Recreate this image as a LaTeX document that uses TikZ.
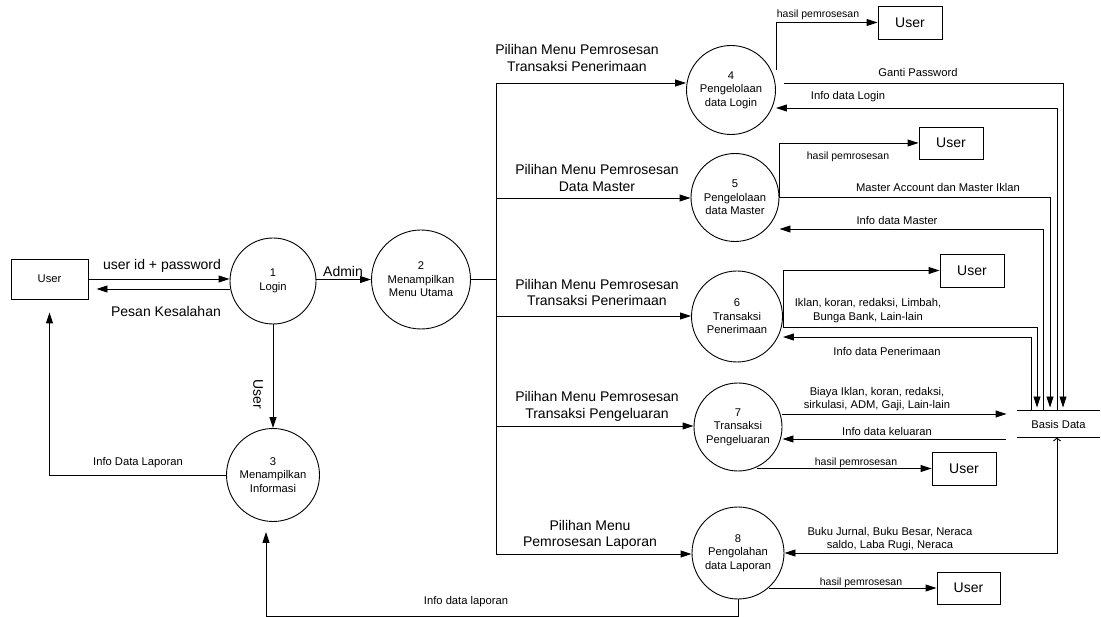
\documentclass[tikz,border=0pt]{standalone}
\usepackage{fontspec}
\setmainfont{Liberation Sans}
\usetikzlibrary{arrows.meta}
\begin{document}
\begin{tikzpicture}[x=1pt,y=-1pt, line width=0.9pt,
  arr/.style={-{Triangle[length=11pt,width=7pt]}},
  proc/.style={circle,draw,inner sep=0pt,align=center,font=\fontsize{11.2}{13.5}\selectfont},
  ent/.style={draw,inner sep=0pt,font=\fontsize{14}{16}\selectfont},
  big/.style={align=center,inner sep=0pt,font=\fontsize{14}{16.5}\selectfont},
  lab/.style={align=center,inner sep=0pt,font=\fontsize{11.2}{13.5}\selectfont},
  sm/.style={inner sep=0pt,font=\fontsize{10.5}{12}\selectfont}]
\fill[white] (0,0) rectangle (1101,617);
\useasboundingbox (0,0) rectangle (1101,617);

% entities
\node[ent, minimum width=77pt, minimum height=40pt, font=\fontsize{11.2}{13}\selectfont] (uL) at (49.5,279) {User};
\node[ent, minimum width=64pt, minimum height=33pt] (u4) at (910,22.5) {User};
\node[ent, minimum width=64pt, minimum height=32pt] (u5) at (951,143) {User};
\node[ent, minimum width=64pt, minimum height=33pt] (u6) at (972,270.5) {User};
\node[ent, minimum width=64pt, minimum height=33pt] (u7) at (964,468.5) {User};
\node[ent, minimum width=63pt, minimum height=32pt] (u8) at (968.5,588) {User};

% processes
\node[proc, minimum size=86pt] (c1) at (273,281) {1\\Login};
\node[proc, minimum size=99pt] (c2) at (421,279.5) {2\\Menampilkan\\Menu Utama};
\node[proc, minimum size=93pt] (c3) at (273,475) {3\\Menampilkan\\Informasi};
\node[proc, minimum size=89pt] (c4) at (731,90) {4\\Pengelolaan\\data Login};
\node[proc, minimum size=88pt] (c5) at (735,197.5) {5\\Pengelolaan\\data Master};
\node[proc, minimum size=91pt] (c6) at (737,316.5) {6\\Transaksi\\Penerimaan};
\node[proc, minimum size=88pt] (c7) at (738,427) {7\\Transaksi\\Pengeluaran};
\node[proc, minimum size=92pt] (c8) at (738,553) {8\\Pengolahan\\data Laporan};

% data store
\node[minimum width=83pt, minimum height=26pt, inner sep=0pt, font=\fontsize{11.2}{13}\selectfont] (bd) at (1058.5,424) {Basis Data};
\draw (bd.north west) -- (bd.north east);
\draw (bd.south west) -- (bd.south east);

% coordinates
\coordinate (b2) at (496,279.5);
\coordinate (b4) at (496,83);
\coordinate (b5) at (496,198);
\coordinate (b6) at (496,316);
\coordinate (b7) at (496,426);
\coordinate (b8) at (496,554);
\coordinate (g1) at (1063,83);
\coordinate (g2) at (1057,108);
\coordinate (g3) at (1050,0);
\coordinate (g4) at (1043,0);
\coordinate (g5) at (1037,0);
\coordinate (g6) at (1031,0);
\coordinate (g7) at (1057,0);
\coordinate (bl) at (266,616);

% left part
\draw[arr] (uL.east) -- (uL.east -| c1.west);
\draw[arr, shorten >=8pt] ([yshift=-8pt]c1.west) -- ([yshift=-10pt]uL.east);
\draw[arr] (c2.west -| c1.east) -- (c2.west);
\draw[arr] (c1.south) -- (c3.north);
\draw[arr, shorten >=13pt] (c3.west) -| (uL.south);
\draw[arr, shorten >=10pt] (c8.south) |- (bl) -- (bl |- c3.south);

% bus
\draw (c2.east) -- (b2);
\draw (b4) -- (b8);
\draw[arr] (b4) -- (b4 -| c4.west);
\draw[arr] (b5) -- (b5 -| c5.west);
\draw[arr] (b6) -- (b6 -| c6.west);
\draw[arr] (b7) -- (b7 -| c7.west);
\draw[arr] (b8) -- (b8 -| c8.west);

% process 4
\draw[arr] ([yshift=20pt]c4.east) |- (u4.west);
\draw[arr, shorten <=8pt, shorten >=3pt] (g1 -| c4.east) -- (g1) -- (g1 |- bd.north);
\draw[arr] (g2 |- bd.north) -- (g2) -- (g2 -| c4.east);

% process 5
\draw[arr] (c5.east) |- (u5.west);
\draw[arr, shorten >=3pt] (c5.east) -| (g3 |- bd.north);
\draw[arr] (g4 |- bd.north) |- ([yshift=-31.5pt]c5.east);

% process 6
\draw[arr] ([yshift=-10.5pt]c6.east) |- (u6.west);
\draw[arr, shorten >=3pt] ([yshift=-10.5pt]c6.east) -| (g5 |- bd.north);
\draw[arr] (g6 |- bd.north) |- ([yshift=-20.5pt]c6.east);

% process 7
\draw[arr, shorten >=10pt] ([yshift=13pt]c7.east) -- ([yshift=13pt]c7.east -| bd.west);
\draw[arr, shorten <=11pt] ([yshift=-12pt]c7.east -| bd.west) -- ([yshift=-12pt]c7.east);
\draw[arr] (u7.west -| c7.-65) -- (u7.west);

% process 8
\draw[{Straight Barb[length=3pt,width=7pt]}-{Triangle[length=11pt,width=7pt]}] (g7 |- bd.south) |- (c8.east);
\draw[arr] (u8.west -| c8.-48) -- (u8.west);

% labels
\node[big] (t1) at (162,266) {user id + password};
\node[big] (t2) at (166,311) {Pesan Kesalahan};
\node[big] (t3) at (343,271) {Admin};
\node[big, rotate=-90] (t4) at (258,394) {User};
\node[lab] (t5) at (138,463) {Info Data Laporan};
\node[lab] (t6) at (466,602) {Info data laporan};
\node[big] (t7) at (577,58) {Pilihan Menu Pemrosesan\\Transaksi Penerimaan};
\node[big] (t8) at (597,178) {Pilihan Menu Pemrosesan\\Data Master};
\node[big] (t9) at (597,292.5) {Pilihan Menu Pemrosesan\\Transaksi Penerimaan};
\node[big] (t10) at (597,406.5) {Pilihan Menu Pemrosesan\\Transaksi Pengeluaran};
\node[big] (t11) at (590,535) {Pilihan Menu\\Pemrosesan Laporan};
\node[sm] (t12) at (818,15) {hasil pemrosesan};
\node[lab] (t13) at (918,73) {Ganti Password};
\node[lab] (t14) at (848,97) {Info data Login};
\node[sm] (t15) at (848,157) {hasil pemrosesan};
\node[lab] (t16) at (938,188) {Master Account dan Master Iklan};
\node[lab] (t17) at (897,221) {Info data Master};
\node[lab] (t18) at (868,310.5) {Iklan, koran, redaksi, Limbah,\\Bunga Bank, Lain-lain};
\node[lab] (t19) at (887,351) {Info data Penerimaan};
\node[lab] (t20) at (877,399) {Biaya Iklan, koran, redaksi,\\sirkulasi, ADM, Gaji, Lain-lain};
\node[lab] (t21) at (887,431) {Info data keluaran};
\node[sm] (t22) at (856,463) {hasil pemrosesan};
\node[lab] (t23) at (890,539) {Buku Jurnal, Buku Besar, Neraca\\saldo, Laba Rugi, Neraca};
\node[sm] (t24) at (861,583) {hasil pemrosesan};
\end{tikzpicture}
\end{document}
